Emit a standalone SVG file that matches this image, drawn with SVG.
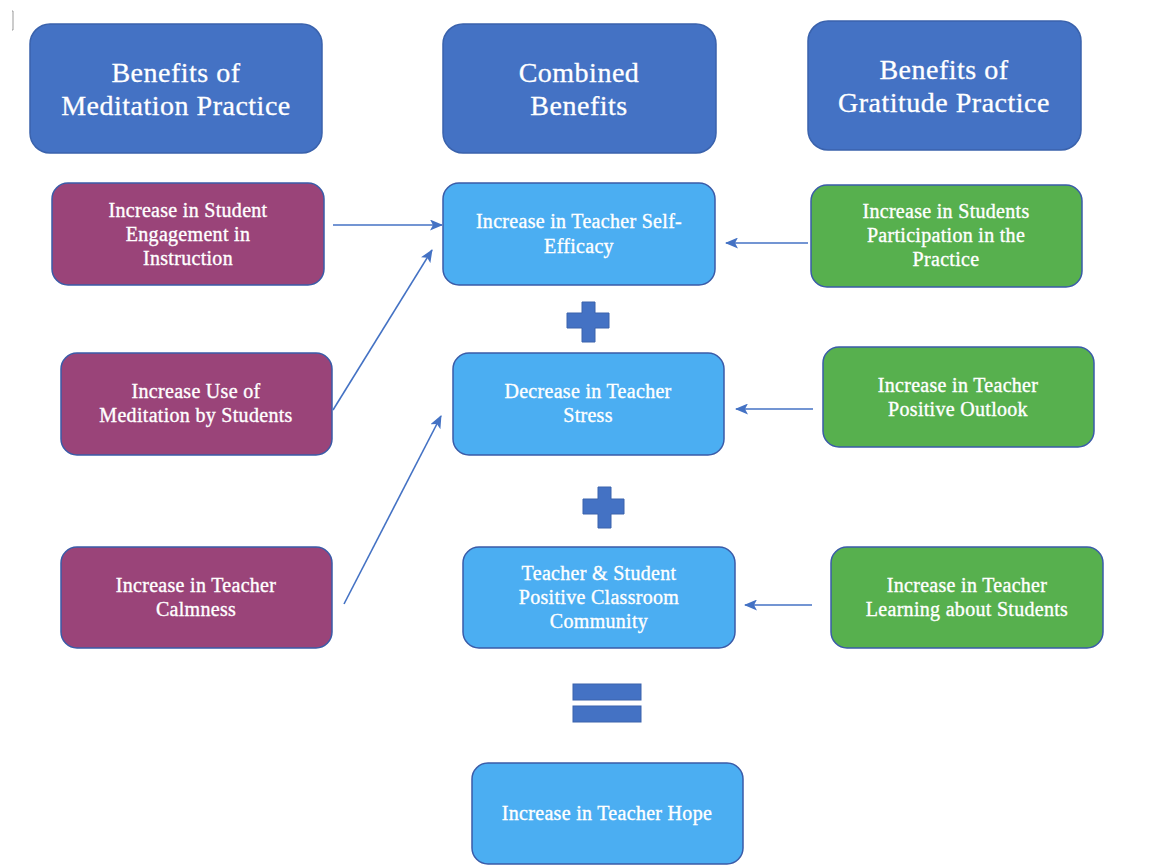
<svg xmlns="http://www.w3.org/2000/svg" width="1155" height="865" viewBox="0 0 1155 865">
<style>
.hdr{fill:#4472C4;stroke:#3A62AC;stroke-width:1.5}
.pur{fill:#9A4479;stroke:#3A5BA8;stroke-width:1.5}
.lb{fill:#4BAEF2;stroke:#3A5BA8;stroke-width:1.5}
.gr{fill:#57B04E;stroke:#3A5BA8;stroke-width:1.5}
.ht{font-family:"Liberation Serif",serif;font-size:28px;letter-spacing:0.5px;fill:#fff;text-anchor:middle;stroke:#fff;stroke-width:0.3}
.nt{font-family:"Liberation Serif",serif;font-size:20px;letter-spacing:0.3px;fill:#fff;text-anchor:middle;stroke:#fff;stroke-width:0.35}
.sym{fill:#4472C4;stroke:#3A62AC;stroke-width:1}
.con{stroke:#4472C4;stroke-width:1.6;fill:none;marker-end:url(#ah)}
</style>
<defs>
<marker id="ah" markerWidth="13" markerHeight="11" refX="12" refY="5.5" orient="auto" markerUnits="userSpaceOnUse">
<path d="M0,0 L13,5.5 L0,11 L3,5.5 Z" fill="#4472C4"/>
</marker>
</defs>
<rect width="1155" height="865" fill="#fff"/>
<path d="M12,11 L13,11 L13,30 L12,30" stroke="#999" stroke-width="1" fill="none"/>

<g id="hdr-meditation"><rect class="hdr" x="30" y="24" width="292" height="129" rx="20"/><text class="ht" x="176" y="82">Benefits of</text><text class="ht" x="176" y="115">Meditation Practice</text></g>
<g id="hdr-combined"><rect class="hdr" x="443" y="24" width="273" height="129" rx="20"/><text class="ht" x="579" y="82">Combined</text><text class="ht" x="579" y="115">Benefits</text></g>
<g id="hdr-gratitude"><rect class="hdr" x="808" y="21" width="273" height="129" rx="20"/><text class="ht" x="944" y="79">Benefits of</text><text class="ht" x="944" y="112">Gratitude Practice</text></g>

<g id="m1"><rect class="pur" x="52" y="183" width="272" height="102" rx="16"/><text class="nt" x="188" y="217">Increase in Student</text><text class="nt" x="188" y="241">Engagement in</text><text class="nt" x="188" y="265">Instruction</text></g>
<g id="m2"><rect class="pur" x="61" y="353" width="271" height="102" rx="16"/><text class="nt" x="196" y="398">Increase Use of</text><text class="nt" x="196" y="422">Meditation by Students</text></g>
<g id="m3"><rect class="pur" x="61" y="547" width="271" height="101" rx="16"/><text class="nt" x="196" y="592">Increase in Teacher</text><text class="nt" x="196" y="616">Calmness</text></g>

<g id="c1"><rect class="lb" x="443" y="183" width="272" height="102" rx="16"/><text class="nt" x="579" y="228">Increase in Teacher Self-</text><text class="nt" x="579" y="253">Efficacy</text></g>
<g id="c2"><rect class="lb" x="453" y="353" width="271" height="102" rx="16"/><text class="nt" x="588" y="398">Decrease in Teacher</text><text class="nt" x="588" y="422">Stress</text></g>
<g id="c3"><rect class="lb" x="463" y="547" width="272" height="101" rx="16"/><text class="nt" x="599" y="580">Teacher &amp; Student</text><text class="nt" x="599" y="604">Positive Classroom</text><text class="nt" x="599" y="628">Community</text></g>
<g id="c4"><rect class="lb" x="472" y="763" width="271" height="101" rx="16"/><text class="nt" x="607" y="820">Increase in Teacher Hope</text></g>

<g id="g1"><rect class="gr" x="811" y="185" width="271" height="102" rx="16"/><text class="nt" x="946" y="218">Increase in Students</text><text class="nt" x="946" y="242">Participation in the</text><text class="nt" x="946" y="266">Practice</text></g>
<g id="g2"><rect class="gr" x="823" y="347" width="271" height="100" rx="16"/><text class="nt" x="958" y="392">Increase in Teacher</text><text class="nt" x="958" y="416">Positive Outlook</text></g>
<g id="g3"><rect class="gr" x="831" y="547" width="272" height="101" rx="16"/><text class="nt" x="967" y="592">Increase in Teacher</text><text class="nt" x="967" y="616">Learning about Students</text></g>

<g id="plus1"><path class="sym" d="M582,302 H595 V313 H609 V328 H595 V342 H582 V328 H567 V313 H582 Z"/></g>
<g id="plus2"><path class="sym" d="M598,487 H611 V499 H624 V514 H611 V528 H598 V514 H583 V499 H598 Z"/></g>
<g id="equals"><rect class="sym" x="573" y="684" width="68" height="16"/><rect class="sym" x="573" y="706" width="68" height="16"/></g>

<g id="connectors">
<line class="con" x1="333" y1="225" x2="442" y2="225"/>
<line class="con" x1="333" y1="410" x2="432" y2="250"/>
<line class="con" x1="344" y1="604" x2="441" y2="416"/>
<line class="con" x1="808" y1="243" x2="726" y2="243"/>
<line class="con" x1="813" y1="409" x2="736" y2="409"/>
<line class="con" x1="812" y1="605" x2="745" y2="605"/>
</g>
</svg>
